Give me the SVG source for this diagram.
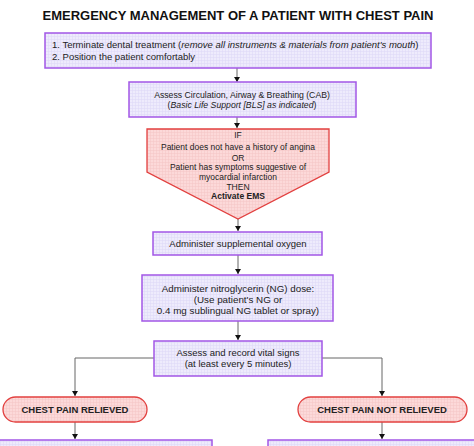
<svg xmlns="http://www.w3.org/2000/svg" width="474" height="446" viewBox="0 0 474 446">
<defs>
<pattern id="gp" width="3" height="3" patternUnits="userSpaceOnUse">
<rect width="3" height="3" fill="#eeebfc"/>
<path d="M0 0.5H3M0.5 0V3" stroke="#dcd6f6" stroke-width="0.5"/>
</pattern>
<pattern id="gr" width="3" height="3" patternUnits="userSpaceOnUse">
<rect width="3" height="3" fill="#fcd9d9"/>
<path d="M0 0.5H3M0.5 0V3" stroke="#f4c4c4" stroke-width="0.5"/>
</pattern>
<marker id="ah" markerWidth="6" markerHeight="7" refX="5" refY="3.5" orient="auto" markerUnits="userSpaceOnUse">
<path d="M0 0.5L5 3.5L0 6.5Z" fill="#111"/>
</marker>
</defs>
<style>
.box{fill:url(#gp);stroke:#a257e6;stroke-width:1.5}
.red{fill:url(#gr);stroke:#e2403f;stroke-width:1.3}
.t{font-family:"Liberation Sans",Arial,sans-serif;font-size:9.5px;fill:#222}
.s{font-size:8.7px}
.p{font-size:8.5px}
.l{font-size:9.8px}
.c{text-anchor:middle}
.b{font-weight:bold}
.ln{fill:none;stroke:#666;stroke-width:1;marker-end:url(#ah)}
</style>
<rect width="474" height="446" fill="#fff"/>
<text x="238" y="20" class="t c b" style="font-size:13px;fill:#111">EMERGENCY MANAGEMENT OF A PATIENT WITH CHEST PAIN</text>

<g id="connectors">
<line class="ln" x1="237" y1="68" x2="237" y2="82"/>
<line class="ln" x1="237" y1="117" x2="237" y2="128"/>
<line class="ln" x1="238" y1="219" x2="238" y2="231"/>
<line class="ln" x1="238" y1="255" x2="238" y2="274"/>
<line class="ln" x1="238" y1="321" x2="238" y2="340"/>
<path class="ln" d="M154 358H75V396"/>
<path class="ln" d="M322 358H382V396"/>
<line class="ln" x1="75" y1="422" x2="75" y2="439"/>
<line class="ln" x1="382" y1="422" x2="382" y2="439"/>
</g>

<g id="n1">
<rect class="box" x="45" y="33" width="386" height="35"/>
<text class="t" x="52" y="48">1.  Terminate dental treatment (<tspan font-style="italic">remove all instruments &amp; materials from patient's mouth</tspan>)</text>
<text class="t" x="52" y="60">2.  Position the patient comfortably</text>
</g>

<g id="n2">
<rect class="box" x="129" y="82" width="227" height="35"/>
<text class="t s c" x="242" y="98">Assess Circulation, Airway &amp; Breathing (CAB)</text>
<text class="t s c" x="242" y="108">(<tspan font-style="italic">Basic Life Support [BLS] as indicated</tspan>)</text>
</g>

<g id="n3">
<path class="red" d="M147 129H329V172L238 219L147 172Z"/>
<text class="t p c" x="238" y="138">IF</text>
<text class="t p c" x="238" y="150">Patient does not have a history of angina</text>
<text class="t p c" x="238" y="161">OR</text>
<text class="t p c" x="238" y="170">Patient has symptoms suggestive of</text>
<text class="t p c" x="238" y="180">myocardial infarction</text>
<text class="t p c" x="238" y="190">THEN</text>
<text class="t p c b" x="238" y="199">Activate EMS</text>
</g>

<g id="n4">
<rect class="box" x="153" y="232" width="169" height="23"/>
<text class="t c" x="238" y="247">Administer supplemental oxygen</text>
</g>

<g id="n5">
<rect class="box" x="142" y="275" width="191" height="46"/>
<text class="t l c" x="238" y="292">Administer nitroglycerin (NG) dose:</text>
<text class="t l c" x="238" y="303">(Use patient's NG or</text>
<text class="t l c" x="238" y="314">0.4 mg sublingual NG tablet or spray)</text>
</g>

<g id="n6">
<rect class="box" x="154" y="341" width="168" height="35"/>
<text class="t c" x="238" y="356">Assess and record vital signs</text>
<text class="t c" x="238" y="367">(at least every 5 minutes)</text>
</g>

<g id="n7">
<rect class="red" x="3" y="397" width="144" height="25" rx="12.5"/>
<text class="t c b" x="75" y="413">CHEST PAIN RELIEVED</text>
</g>

<g id="n8">
<rect class="red" x="298" y="397" width="169" height="25" rx="12.5"/>
<text class="t c b" x="382" y="413">CHEST PAIN NOT RELIEVED</text>
</g>

<g id="n9">
<rect class="box" x="-2" y="440" width="214" height="20"/>
</g>
<g id="n10">
<rect class="box" x="268" y="440" width="210" height="20"/>
</g>
</svg>
